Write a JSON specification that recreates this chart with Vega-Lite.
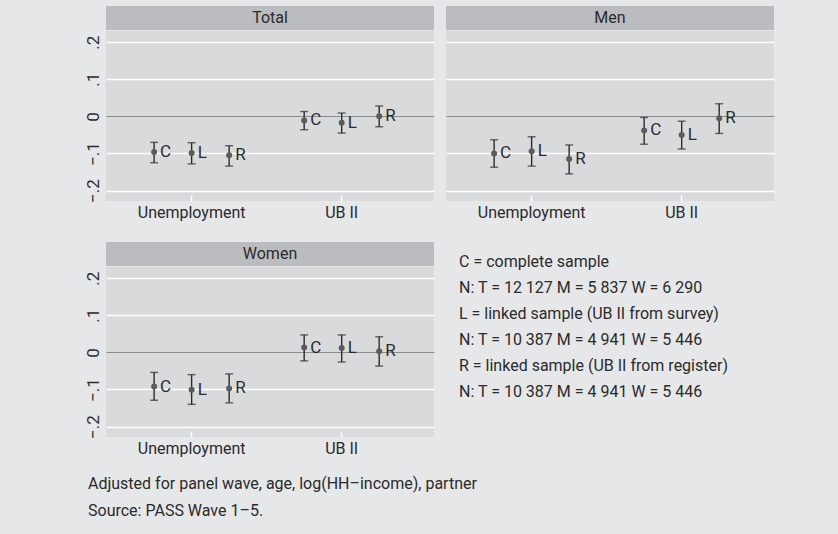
{
  "$schema": "https://vega.github.io/schema/vega-lite/v6.json",
  "background": "#e6e7e9",
  "padding": {"top": 6, "left": 84, "right": 65, "bottom": 17},
  "config": {
    "font": "Roboto",
    "view": {"stroke": null},
    "axis": {"labelFont": "Roboto", "labelFontSize": 16, "labelColor": "#2b2b2b"},
    "text": {"font": "Roboto", "fontSize": 16, "color": "#2b2b2b"}
  },
  "title": {
    "text": "Adjusted for panel wave, age, log(HH–income), partner",
    "subtitle": "Source: PASS Wave 1–5.",
    "orient": "bottom",
    "anchor": "start",
    "frame": "bounds",
    "offset": 20,
    "dx": 4,
    "font": "Roboto",
    "fontSize": 16,
    "fontWeight": "normal",
    "color": "#2b2b2b",
    "subtitleFont": "Roboto",
    "subtitleFontSize": 16,
    "subtitleColor": "#2b2b2b",
    "subtitlePadding": 11
  },
  "datasets": {
    "est": [
      {"panel": "Total", "outcome": "Unemployment", "sample": "C", "est": -0.096, "lo": -0.125, "hi": -0.070},
      {"panel": "Total", "outcome": "Unemployment", "sample": "L", "est": -0.099, "lo": -0.128, "hi": -0.071},
      {"panel": "Total", "outcome": "Unemployment", "sample": "R", "est": -0.105, "lo": -0.134, "hi": -0.079},
      {"panel": "Total", "outcome": "UB II", "sample": "C", "est": -0.011, "lo": -0.036, "hi": 0.013},
      {"panel": "Total", "outcome": "UB II", "sample": "L", "est": -0.017, "lo": -0.045, "hi": 0.009},
      {"panel": "Total", "outcome": "UB II", "sample": "R", "est": 0.000, "lo": -0.028, "hi": 0.028},
      {"panel": "Men", "outcome": "Unemployment", "sample": "C", "est": -0.100, "lo": -0.137, "hi": -0.063},
      {"panel": "Men", "outcome": "Unemployment", "sample": "L", "est": -0.094, "lo": -0.134, "hi": -0.055},
      {"panel": "Men", "outcome": "Unemployment", "sample": "R", "est": -0.115, "lo": -0.155, "hi": -0.077},
      {"panel": "Men", "outcome": "UB II", "sample": "C", "est": -0.038, "lo": -0.075, "hi": -0.003},
      {"panel": "Men", "outcome": "UB II", "sample": "L", "est": -0.050, "lo": -0.088, "hi": -0.013},
      {"panel": "Men", "outcome": "UB II", "sample": "R", "est": -0.005, "lo": -0.046, "hi": 0.034},
      {"panel": "Women", "outcome": "Unemployment", "sample": "C", "est": -0.092, "lo": -0.129, "hi": -0.054},
      {"panel": "Women", "outcome": "Unemployment", "sample": "L", "est": -0.101, "lo": -0.140, "hi": -0.060},
      {"panel": "Women", "outcome": "Unemployment", "sample": "R", "est": -0.097, "lo": -0.136, "hi": -0.058},
      {"panel": "Women", "outcome": "UB II", "sample": "C", "est": 0.013, "lo": -0.023, "hi": 0.047},
      {"panel": "Women", "outcome": "UB II", "sample": "L", "est": 0.012, "lo": -0.026, "hi": 0.047},
      {"panel": "Women", "outcome": "UB II", "sample": "R", "est": 0.003, "lo": -0.037, "hi": 0.042}
    ]
  },
  "spacing": 21,
  "vconcat": [
    {
      "spacing": 12,
      "hconcat": [
        {
          "spacing": 1,
          "vconcat": [
            {
              "width": 328, "height": 24,
              "view": {"fill": "#bbbcbf", "stroke": null},
              "data": {"values": [{"panel": "Total"}]},
              "mark": {"type": "text", "align": "center", "baseline": "middle"},
              "encoding": {"text": {"field": "panel"}}
            },
            {
              "width": 328, "height": 170,
              "view": {"fill": "#d9dadc", "stroke": null},
              "data": {"name": "est"},
              "transform": [{"filter": "datum.panel === 'Total'"}],
              "encoding": {
                "x": {"field": "outcome", "type": "nominal", "sort": ["Unemployment", "UB II"],
                  "scale": {"paddingInner": 0, "paddingOuter": 0.093, "align": 0.38},
                  "axis": {"title": null, "labelAngle": 0, "domain": false, "tickColor": "white", "tickWidth": 1.5, "tickSize": -6, "labelPadding": 9}},
                "xOffset": {"field": "sample", "type": "nominal", "sort": ["C", "L", "R"], "scale": {"paddingInner": 0, "paddingOuter": 0.5}}
              },
              "layer": [
                {
                  "mark": {"type": "rule", "color": "#2b2b2b", "strokeWidth": 1.4},
                  "encoding": {
                    "y": {"field": "lo", "type": "quantitative",
                      "scale": {"domain": [-0.228, 0.23], "nice": false, "zero": false},
                      "axis": {"title": null, "values": [-0.2, -0.1, 0, 0.1, 0.2], "labelAngle": 270, "labelFontSize": 17,
                        "labelExpr": "datum.value === 0 ? '0' : replace(format(datum.value, '.1f'), '0.', '.')",
                        "domain": false, "ticks": false, "labelPadding": 4,
                        "gridColor": {"condition": {"test": "datum.value === 0", "value": "#8c8d8f"}, "value": "white"},
                        "gridWidth": {"condition": {"test": "datum.value === 0", "value": 1}, "value": 1.6}}},
                    "y2": {"field": "hi"}
                  }
                },
                {"mark": {"type": "tick", "color": "#2b2b2b", "size": 8, "thickness": 1.4}, "encoding": {"y": {"field": "lo", "type": "quantitative"}}},
                {"mark": {"type": "tick", "color": "#2b2b2b", "size": 8, "thickness": 1.4}, "encoding": {"y": {"field": "hi", "type": "quantitative"}}},
                {"mark": {"type": "point", "filled": true, "color": "#5b5c5e", "opacity": 1, "size": 36}, "encoding": {"y": {"field": "est", "type": "quantitative"}}},
                {"mark": {"type": "text", "align": "left", "baseline": "middle", "dx": 6, "fontSize": 17}, "encoding": {"y": {"field": "est", "type": "quantitative"}, "text": {"field": "sample"}}}
              ]
            }
          ]
        },
        {
          "spacing": 1,
          "vconcat": [
            {
              "width": 328, "height": 24,
              "view": {"fill": "#bbbcbf", "stroke": null},
              "data": {"values": [{"panel": "Men"}]},
              "mark": {"type": "text", "align": "center", "baseline": "middle"},
              "encoding": {"text": {"field": "panel"}}
            },
            {
              "width": 328, "height": 170,
              "view": {"fill": "#d9dadc", "stroke": null},
              "data": {"name": "est"},
              "transform": [{"filter": "datum.panel === 'Men'"}],
              "encoding": {
                "x": {"field": "outcome", "type": "nominal", "sort": ["Unemployment", "UB II"],
                  "scale": {"paddingInner": 0, "paddingOuter": 0.093, "align": 0.38},
                  "axis": {"title": null, "labelAngle": 0, "domain": false, "tickColor": "white", "tickWidth": 1.5, "tickSize": -6, "labelPadding": 9}},
                "xOffset": {"field": "sample", "type": "nominal", "sort": ["C", "L", "R"], "scale": {"paddingInner": 0, "paddingOuter": 0.5}}
              },
              "layer": [
                {
                  "mark": {"type": "rule", "color": "#2b2b2b", "strokeWidth": 1.4},
                  "encoding": {
                    "y": {"field": "lo", "type": "quantitative",
                      "scale": {"domain": [-0.228, 0.23], "nice": false, "zero": false},
                      "axis": {"title": null, "values": [-0.2, -0.1, 0, 0.1, 0.2], "labels": false,
                        "domain": false, "ticks": false,
                        "gridColor": {"condition": {"test": "datum.value === 0", "value": "#8c8d8f"}, "value": "white"},
                        "gridWidth": {"condition": {"test": "datum.value === 0", "value": 1}, "value": 1.6}}},
                    "y2": {"field": "hi"}
                  }
                },
                {"mark": {"type": "tick", "color": "#2b2b2b", "size": 8, "thickness": 1.4}, "encoding": {"y": {"field": "lo", "type": "quantitative"}}},
                {"mark": {"type": "tick", "color": "#2b2b2b", "size": 8, "thickness": 1.4}, "encoding": {"y": {"field": "hi", "type": "quantitative"}}},
                {"mark": {"type": "point", "filled": true, "color": "#5b5c5e", "opacity": 1, "size": 36}, "encoding": {"y": {"field": "est", "type": "quantitative"}}},
                {"mark": {"type": "text", "align": "left", "baseline": "middle", "dx": 6, "fontSize": 17}, "encoding": {"y": {"field": "est", "type": "quantitative"}, "text": {"field": "sample"}}}
              ]
            }
          ]
        }
      ]
    },
    {
      "spacing": 24,
      "hconcat": [
        {
          "spacing": 1,
          "vconcat": [
            {
              "width": 328, "height": 24,
              "view": {"fill": "#bbbcbf", "stroke": null},
              "data": {"values": [{"panel": "Women"}]},
              "mark": {"type": "text", "align": "center", "baseline": "middle"},
              "encoding": {"text": {"field": "panel"}}
            },
            {
              "width": 328, "height": 170,
              "view": {"fill": "#d9dadc", "stroke": null},
              "data": {"name": "est"},
              "transform": [{"filter": "datum.panel === 'Women'"}],
              "encoding": {
                "x": {"field": "outcome", "type": "nominal", "sort": ["Unemployment", "UB II"],
                  "scale": {"paddingInner": 0, "paddingOuter": 0.093, "align": 0.38},
                  "axis": {"title": null, "labelAngle": 0, "domain": false, "tickColor": "white", "tickWidth": 1.5, "tickSize": -6, "labelPadding": 9}},
                "xOffset": {"field": "sample", "type": "nominal", "sort": ["C", "L", "R"], "scale": {"paddingInner": 0, "paddingOuter": 0.5}}
              },
              "layer": [
                {
                  "mark": {"type": "rule", "color": "#2b2b2b", "strokeWidth": 1.4},
                  "encoding": {
                    "y": {"field": "lo", "type": "quantitative",
                      "scale": {"domain": [-0.228, 0.23], "nice": false, "zero": false},
                      "axis": {"title": null, "values": [-0.2, -0.1, 0, 0.1, 0.2], "labelAngle": 270, "labelFontSize": 17,
                        "labelExpr": "datum.value === 0 ? '0' : replace(format(datum.value, '.1f'), '0.', '.')",
                        "domain": false, "ticks": false, "labelPadding": 4,
                        "gridColor": {"condition": {"test": "datum.value === 0", "value": "#8c8d8f"}, "value": "white"},
                        "gridWidth": {"condition": {"test": "datum.value === 0", "value": 1}, "value": 1.6}}},
                    "y2": {"field": "hi"}
                  }
                },
                {"mark": {"type": "tick", "color": "#2b2b2b", "size": 8, "thickness": 1.4}, "encoding": {"y": {"field": "lo", "type": "quantitative"}}},
                {"mark": {"type": "tick", "color": "#2b2b2b", "size": 8, "thickness": 1.4}, "encoding": {"y": {"field": "hi", "type": "quantitative"}}},
                {"mark": {"type": "point", "filled": true, "color": "#5b5c5e", "opacity": 1, "size": 36}, "encoding": {"y": {"field": "est", "type": "quantitative"}}},
                {"mark": {"type": "text", "align": "left", "baseline": "middle", "dx": 6, "fontSize": 17}, "encoding": {"y": {"field": "est", "type": "quantitative"}, "text": {"field": "sample"}}}
              ]
            }
          ]
        },
        {
          "width": 330, "height": 170,
          "view": {"fill": "transparent", "stroke": "transparent"},
          "data": {"values": [
            {"line": 1, "label": "C = complete sample"},
            {"line": 2, "label": "N: T = 12 127 M = 5 837 W = 6 290"},
            {"line": 3, "label": "L = linked sample (UB II from survey)"},
            {"line": 4, "label": "N: T = 10 387 M = 4 941 W = 5 446"},
            {"line": 5, "label": "R = linked sample (UB II from register)"},
            {"line": 6, "label": "N: T = 10 387 M = 4 941 W = 5 446"}
          ]},
          "mark": {"type": "text", "align": "left", "baseline": "middle"},
          "encoding": {
            "x": {"datum": 0, "type": "quantitative", "scale": {"domain": [0, 1]}, "axis": null},
            "y": {"field": "line", "type": "ordinal", "scale": {"type": "point", "padding": 0.78}, "axis": null},
            "text": {"field": "label"}
          }
        }
      ]
    }
  ]
}
